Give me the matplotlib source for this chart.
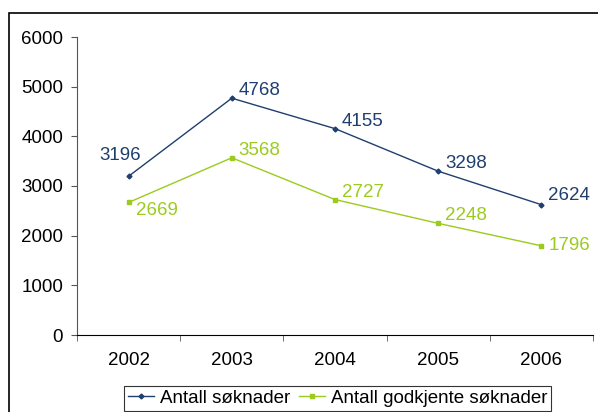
import matplotlib

matplotlib.use('Agg')
import matplotlib.pyplot as plt
from matplotlib.patches import Rectangle

plt.rcParams['font.family'] = ['Liberation Sans', 'DejaVu Sans']

# data
years = ['2002', '2003', '2004', '2005', '2006']
soknader = [3196, 4768, 4155, 3298, 2624]
godkjente = [2669, 3568, 2727, 2248, 1796]

# label offsets in pixels (dx, dy) relative to the point, and alignment
soknader_offsets = [(-8, 21), (7, 8), (7, 7), (7, 8), (7, 9)]
soknader_ha = ['center', 'left', 'left', 'left', 'left']
godkjente_offsets = [(7, -8), (7, 7), (7, 7), (7, 8), (7, 0)]

blue = '#1F3F6E'
green = '#9BCB1E'
fs = 13.5

fig = plt.figure(figsize=(5.98, 4.12), dpi=100)
fig.patches.append(Rectangle((9 / 598, -0.1), 1.2, 1 - 13 / 412 + 0.1,
                             transform=fig.transFigure, fill=False,
                             edgecolor='black', linewidth=1.2))

ax = fig.add_axes([77 / 598, 1 - 335 / 412, 516 / 598, 298 / 412])
x = list(range(len(years)))
ax.plot(x, soknader, color=blue, lw=1, marker='D', ms=2.5, label='Antall søknader')
ax.plot(x, godkjente, color=green, lw=1, marker='s', ms=2.5, label='Antall godkjente søknader')

for i, v in enumerate(soknader):
    dx, dy = soknader_offsets[i]
    ax.annotate(str(v), (x[i], v), xytext=(dx * 0.72, dy * 0.72), textcoords='offset points',
                ha=soknader_ha[i], va='center', color=blue, fontsize=fs)
for i, v in enumerate(godkjente):
    dx, dy = godkjente_offsets[i]
    ax.annotate(str(v), (x[i], v), xytext=(dx * 0.72, dy * 0.72), textcoords='offset points',
                ha='left', va='center', color=green, fontsize=fs)

ax.set_xlim(-0.5, len(years) - 0.5)
ax.set_ylim(0, 6000)
ax.set_yticks(range(0, 6001, 1000))
ax.set_xticks(x)
ax.set_xticklabels(years)
ax.set_xticks([i - 0.5 for i in range(len(years) + 1)], minor=True)
ax.tick_params(axis='x', which='major', length=0, pad=12, labelsize=fs)
ax.tick_params(axis='x', which='minor', length=4, direction='out', color='#555555')
ax.tick_params(axis='y', length=4, direction='out', labelsize=fs, color='#555555', pad=6)

ax.spines['top'].set_visible(False)
ax.spines['right'].set_visible(False)
ax.spines['left'].set_color('#555555')
ax.spines['bottom'].set_color('black')

leg = ax.legend(loc='upper center', bbox_to_anchor=(0.505, -0.14), ncol=2, frameon=True,
                fancybox=False, edgecolor='black', fontsize=fs, handlelength=1.4,
                handletextpad=0.3, columnspacing=0.5, borderpad=0.2, markerscale=1)
leg.get_frame().set_linewidth(0.8)

fig.savefig('out.png', dpi=100)
